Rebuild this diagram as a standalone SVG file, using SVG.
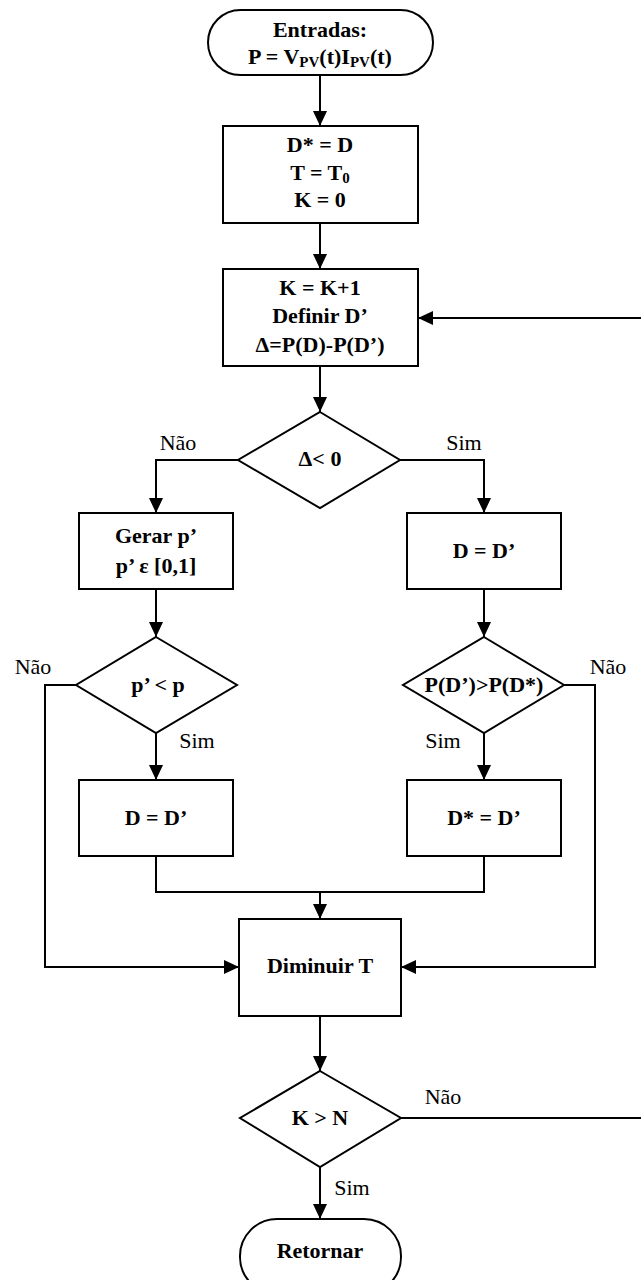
<svg xmlns="http://www.w3.org/2000/svg" width="641" height="1280" viewBox="0 0 641 1280" font-family="'Liberation Serif', 'DejaVu Serif', serif">
  <defs>
    <marker id="arrow" markerUnits="userSpaceOnUse" markerWidth="16" markerHeight="14" refX="15" refY="7" orient="auto">
      <path d="M0,0 L15,7 L0,14 Z" fill="#000"/>
    </marker>
    <style>
      .shape { fill: #fff; stroke: #000; stroke-width: 2; }
      .link { fill: none; stroke: #000; stroke-width: 2; }
      .arr { marker-end: url(#arrow); }
      text { font-family: 'Liberation Serif', 'DejaVu Serif', serif; }
      .t { font-weight: bold; font-size: 22px; text-anchor: middle; fill: #000; }
      .sub { font-size: 15px; }
      .lbl { font-size: 22px; text-anchor: middle; fill: #000; }
    </style>
  </defs>

  <rect width="641" height="1280" fill="#fff"/>

  <!-- connectors -->
  <g id="connectors">
    <path class="link arr" d="M320,75 V126"/>
    <path class="link arr" d="M320,223 V269"/>
    <path class="link arr" d="M320,366 V412"/>
    <path class="link arr" d="M238,460 H156 V513"/>
    <path class="link arr" d="M400,460 H484 V513"/>
    <path class="link arr" d="M156,589 V637"/>
    <path class="link arr" d="M484,589 V637"/>
    <path class="link arr" d="M156,733 V780"/>
    <path class="link arr" d="M484,733 V780"/>
    <path class="link" d="M156,856 V892 H484 V856"/>
    <path class="link arr" d="M320,892 V919"/>
    <path class="link arr" d="M76,685 H45 V967 H239"/>
    <path class="link arr" d="M564,685 H595 V967 H401"/>
    <path class="link arr" d="M320,1016 V1071"/>
    <path class="link arr" d="M320,1167 V1219"/>
    <path class="link arr" d="M401,1118 H643 V318 H418"/>
  </g>

  <!-- edge labels -->
  <g id="labels">
    <text class="lbl" x="178" y="450">Não</text>
    <text class="lbl" x="464" y="450">Sim</text>
    <text class="lbl" x="33" y="674">Não</text>
    <text class="lbl" x="608" y="674">Não</text>
    <text class="lbl" x="197" y="748">Sim</text>
    <text class="lbl" x="443" y="748">Sim</text>
    <text class="lbl" x="443" y="1104">Não</text>
    <text class="lbl" x="352" y="1195">Sim</text>
  </g>

  <g id="start">
    <rect class="shape" x="208" y="10" width="225" height="65" rx="32.5" ry="32.5"/>
    <text class="t" x="320" y="37">Entradas:</text>
    <text class="t" x="320" y="64">P = V<tspan class="sub" dy="3">PV</tspan><tspan dy="-3">(t)I</tspan><tspan class="sub" dy="3">PV</tspan><tspan dy="-3">(t)</tspan></text>
  </g>

  <g id="init">
    <rect class="shape" x="223" y="126" width="195" height="97"/>
    <text class="t" x="320" y="152">D* = D</text>
    <text class="t" x="320" y="180">T = T<tspan class="sub" dy="3">0</tspan></text>
    <text class="t" x="320" y="207">K = 0</text>
  </g>

  <g id="iterate">
    <rect class="shape" x="223" y="269" width="195" height="97"/>
    <text class="t" x="320" y="295">K = K+1</text>
    <text class="t" x="320" y="323">Definir D’</text>
    <text class="t" x="320" y="352">Δ=P(D)-P(D’)</text>
  </g>

  <g id="delta-check">
    <polygon class="shape" points="320,412 400,460 320,508 238,460"/>
    <text class="t" x="320" y="466">Δ&lt; 0</text>
  </g>

  <g id="generate-p">
    <rect class="shape" x="79" y="513" width="154" height="76"/>
    <text class="t" x="156" y="543">Gerar p’</text>
    <text class="t" x="156" y="573">p’ ε [0,1]</text>
  </g>

  <g id="accept-d">
    <rect class="shape" x="407" y="513" width="154" height="76"/>
    <text class="t" x="484" y="558">D = D’</text>
  </g>

  <g id="p-check">
    <polygon class="shape" points="156,637 237,685 156,733 76,685"/>
    <text class="t" x="158" y="692">p’ &lt; p</text>
  </g>

  <g id="best-check">
    <polygon class="shape" points="484,637 564,685 484,733 403,685"/>
    <text class="t" x="484" y="692">P(D’)&gt;P(D*)</text>
  </g>

  <g id="set-d">
    <rect class="shape" x="79" y="780" width="154" height="76"/>
    <text class="t" x="156" y="825">D = D’</text>
  </g>

  <g id="set-best">
    <rect class="shape" x="407" y="780" width="154" height="76"/>
    <text class="t" x="484" y="825">D* = D’</text>
  </g>

  <g id="cool">
    <rect class="shape" x="239" y="919" width="162" height="97"/>
    <text class="t" x="320" y="973">Diminuir T</text>
  </g>

  <g id="stop-check">
    <polygon class="shape" points="320,1071 401,1118 320,1167 240,1118"/>
    <text class="t" x="320" y="1125">K &gt; N</text>
  </g>

  <g id="end">
    <rect class="shape" x="240" y="1219" width="161" height="75" rx="37" ry="37"/>
    <text class="t" x="320" y="1258">Retornar</text>
  </g>
</svg>
